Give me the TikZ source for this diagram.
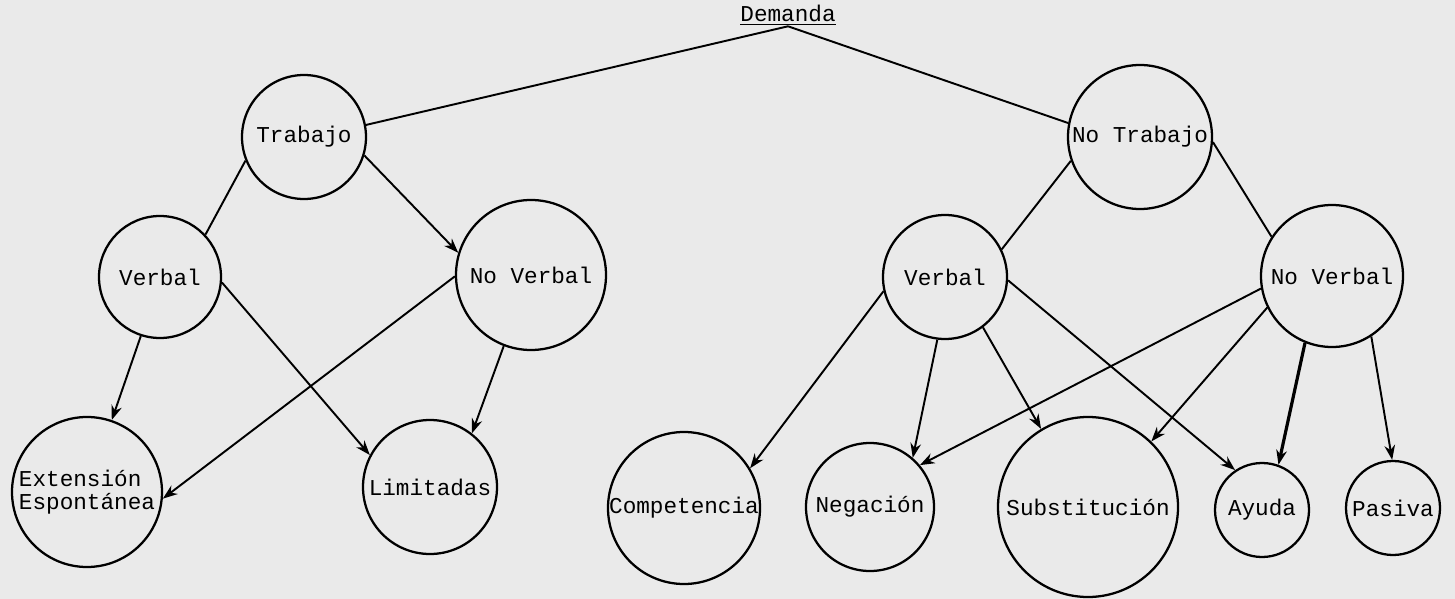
\documentclass[tikz,border=0pt]{standalone}
\usepackage{fontspec}
\setmonofont{Liberation Mono}
\usetikzlibrary{arrows.meta}
\definecolor{paper}{RGB}{234,234,234}
\newcommand{\typed}{\ttfamily\fontsize{17}{17.5}\selectfont}
\tikzset{
  ring/.style={circle,draw,line width=1.7pt,inner sep=0pt,minimum size=#1,font=\typed},
  link/.style={line width=1.45pt},
  arrowlink/.style={link,-{Stealth[length=11pt,width=8pt]}},
}
\begin{document}
\begin{tikzpicture}[x=0.75pt,y=0.75pt,yscale=-1,xscale=1]
%set diagram left start at 0, and has height of 599
\fill[paper] (0,0) rectangle (1455,599);
\useasboundingbox (0,0) rectangle (1455,599);

% Text Node
\node[font=\typed,inner sep=1pt] (dem) at (788,15) {\underline{Demanda}};

%Shape: Circle
\node[ring=93pt] (trab) at (304,137) {Trabajo};
\node[ring=108pt] (notrab) at (1140,137) {No Trabajo};
%Shape: Circle
\node[ring=91.5pt] (verbL) at (160,277) {Verbal};
\node[ring=112.5pt] (noverbL) at (531,275) {No Verbal};
\node[ring=93pt] (verbR) at (945,277) {Verbal};
\node[ring=106.5pt] (noverbR) at (1332,276) {No Verbal};
%Shape: Circle
\node[ring=112.5pt,align=left] (ext) at (87,492) {Extensión\\Espontánea};
\node[ring=100.5pt] (lim) at (430,487) {Limitadas};
\node[ring=114pt] (comp) at (684,508) {Competencia};
\node[ring=96pt] (neg) at (870,507) {Negación};
\node[ring=135pt] (subst) at (1088,507) {Substitución};
\node[ring=70.5pt] (ayuda) at (1262,510) {Ayuda};
\node[ring=70.5pt] (pasiva) at (1393,508) {Pasiva};

%Straight Lines
\draw[link] (dem.south) -- (trab.11);
\draw[link] (dem.south) -- (notrab.169);
\draw[link] (trab.202) -- (verbL.43);
\draw[arrowlink] (trab.343) -- (noverbL.163);
\draw[link] (notrab.199) -- (verbR.26);
\draw[link] (notrab.356) -- (noverbR.147);

%Straight Lines
\draw[arrowlink] (verbL.252) -- (ext.71);
\draw[arrowlink] (verbL.355) -- (lim.152);
\draw[arrowlink] (noverbL.181) -- (ext.355);
\draw[arrowlink] (noverbL.249) -- (lim.52);

%Straight Lines
\draw[arrowlink] (verbR.193) -- (comp.31);
\draw[arrowlink] (verbR.263) -- (neg.49);
\draw[arrowlink] (verbR.307) -- (subst.121);
\draw[arrowlink] (verbR.357) -- (ayuda.124);
\draw[arrowlink] (noverbR.190) -- (neg.40);
\draw[arrowlink] (noverbR.206) -- (subst.46);
\draw[arrowlink,line width=2.4pt] (noverbR.248) -- (ayuda.70);
\draw[arrowlink] (noverbR.303) -- (pasiva.91);

\end{tikzpicture}
\end{document}
